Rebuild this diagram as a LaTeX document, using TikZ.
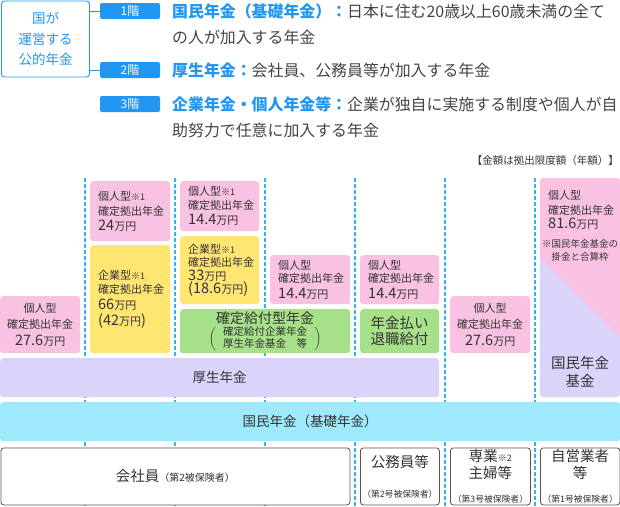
\documentclass[tikz,border=0pt]{standalone}
\usepackage{fontspec}
\newfontfamily\jp{Noto Sans CJK JP}
\usetikzlibrary{
    arrows.meta,
    positioning
}
\definecolor{kblue}{RGB}{33,150,243}
\definecolor{ink}{RGB}{51,51,51}
\definecolor{gry}{RGB}{68,68,68}
\definecolor{pk}{RGB}{249,194,226}
\definecolor{yel}{RGB}{255,230,115}
\definecolor{grn}{RGB}{166,224,137}
\definecolor{lav}{RGB}{219,212,250}
\definecolor{sky}{RGB}{158,233,252}
\definecolor{sepc}{RGB}{50,180,235}
\definecolor{edge}{RGB}{85,85,85}
\newcommand\fsz[2]{\fontsize{#1}{#2}\selectfont}
\newcommand\kome[1]{{\fsz{9}{9}※#1}}
\newcommand\num[1]{{\fsz{14.5}{14.5}#1}}
\newcommand\hi[1]{\textcolor{kblue}{\bfseries #1}}

\begin{document}
\begin{tikzpicture}[x=1pt, y=-1pt,
    blk/.style={rounded corners=3pt, inner sep=0pt, anchor=north west, text=ink, font=\jp\fsz{11}{14}},
    pbox/.style={blk, fill=pk},
    ybox/.style={blk, fill=yel},
    gbox/.style={blk, fill=grn},
    lbox/.style={align=left, inner xsep=8pt, text width=#1},
    wbox/.style={blk, fill=white, draw=edge, line width=0.8pt, minimum height=57pt, align=center, font=\jp\fsz{14.5}{17}},
    badge/.style={fill=kblue, text=white, rounded corners=2pt, minimum width=60pt, minimum height=16pt, inner sep=0pt, font=\jp\fsz{12}{12}},
    lead/.style={anchor=west, inner sep=0pt, align=left, text=gry, font=\jp\fsz{15.9}{26}},
    sep/.style={sepc, line width=1.6pt, dash pattern=on 4pt off 2pt}
]
    \useasboundingbox (0,0) rectangle (620,506);
    \node[draw=kblue, line width=0.9pt, rounded corners=3pt, minimum width=88pt, minimum height=76pt, text=kblue, align=center, font=\jp\fsz{13.5}{20.5}] (gov) at (45.5,39) {国が\\運営する\\公的年金};
    \node[badge] (f1) at (130,11) {1階};
    \node[badge] (f2) at (130,70) {2階};
    \node[badge] (f3) at (130,104) {3階};
    \draw[kblue, line width=0.9pt] (f1.west -| gov.east) -- (f1.west);
    \draw[kblue, line width=0.9pt] (f2.west -| gov.east) -- (f2.west);
    \node[lead] (t1) at (172,24) {\hi{国民年金（基礎年金）：}日本に住む20歳以上60歳未満の全て\\の人が加入する年金};
    \node[lead] (t2) at (172,70) {\hi{厚生年金：}会社員、公務員等が加入する年金};
    \node[lead] (t3) at (172,117) {\hi{企業年金・個人年金等：}企業が独自に実施する制度や個人が自\\助努力で任意に加入する年金};
    \node[anchor=east, inner sep=0pt, text=ink, font=\jp\fsz{10.5}{10.5}] (note) at (619,161) {【金額は拠出限度額（年額）】};

    \foreach \x in {85,175,265,355,445,535}
        \draw[sep] (\x,178) -- (\x,506);

    \node[pbox, minimum width=80pt, minimum height=57pt, align=center, font=\jp\fsz{11}{16.5}] (p1) at (0,296) {個人型\\確定拠出年金\\\num{27.6}万円};
    \node[pbox, lbox=64pt, minimum width=80pt, minimum height=60pt, font=\jp\fsz{11}{15}] (p2) at (90,181) {個人型\kome{1}\\確定拠出年金\\\num{24}万円};
    \node[ybox, lbox=64pt, minimum width=80pt, minimum height=108pt] (y2) at (90,245) {企業型\kome{1}\\確定拠出年金\\[2pt]\num{66}万円\\[2pt]\num{(42}万円\num{)}};
    \node[pbox, lbox=63pt, minimum width=79pt, minimum height=50pt] (p3) at (180,181) {個人型\kome{1}\\確定拠出年金\\[1pt]\num{14.4}万円};
    \node[ybox, lbox=63pt, minimum width=79pt, minimum height=68pt, font=\jp\fsz{11}{13}] (y3) at (180,236) {企業型\kome{1}\\確定拠出年金\\[0.5pt]\num{33}万円\\\num{(18.6}万円\num{)}};
    \node[gbox, minimum width=170pt, minimum height=44pt, align=center, font=\jp\fsz{14}{14}] (g34) at (180,309) {確定給付型年金\\[1pt]{\fsz{10.5}{11}$\left(\begin{tabular}{@{\hspace{7pt}}c@{\hspace{7pt}}}確定給付企業年金\\[-1pt]厚生年金基金　等\end{tabular}\right)$}};
    \node[pbox, lbox=64pt, minimum width=80pt, minimum height=49pt, font=\jp\fsz{11}{13}] (p4) at (270,255) {個人型\\確定拠出年金\\[3pt]\num{14.4}万円};
    \node[pbox, lbox=63pt, minimum width=79pt, minimum height=49pt, font=\jp\fsz{11}{13}] (p5) at (360,255) {個人型\\確定拠出年金\\[3pt]\num{14.4}万円};
    \node[gbox, minimum width=79pt, minimum height=44pt, align=center, font=\jp\fsz{14.5}{16.5}] (g5) at (360,309) {年金払い\\退職給付};
    \node[pbox, minimum width=80pt, minimum height=57pt, align=center, font=\jp\fsz{11}{16.5}] (p6) at (450,296) {個人型\\確定拠出年金\\\num{27.6}万円};

    \fill[pk, rounded corners=3pt] (540,178) rectangle (620,397);
    \begin{scope}
        \clip[rounded corners=3pt] (540,178) rectangle (620,397);
        \fill[lav] (540,258) -- (620,337) -- (620,397) -- (540,397) -- cycle;
    \end{scope}
    \node[anchor=west, inner sep=0pt, align=left, text=ink, font=\jp\fsz{11}{14.5}] (k7a) at (548,210) {個人型\\確定拠出年金\\\num{81.6}万円};
    \node[inner sep=0pt, align=center, text=ink, font=\jp\fsz{9.5}{13}] (k7b) at (580,250.5) {※国民年金基金の\\掛金と合算枠};
    \node[inner sep=0pt, align=center, text=ink, font=\jp\fsz{14.5}{18}] (k7c) at (580,372) {国民年金\\基金};

    \node[blk, fill=lav, minimum width=439pt, minimum height=39pt, font=\jp\fsz{13.5}{13.5}] (kosei) at (0,358) {厚生年金};
    \node[blk, fill=sky, minimum width=620pt, minimum height=39pt, font=\jp\fsz{13.5}{13.5}] (kokumin) at (0,402) {国民年金（基礎年金）};

    \node[wbox, minimum width=349pt] (kaisha) at (0.5,447.5) {会社員{\fsz{10}{10}（第2被保険者）}};
    \node[wbox, minimum width=79pt] (koumu) at (360,447.5) {公務員等\\[13pt]{\fsz{8.8}{9}（第2号被保険者）}};
    \node[wbox, minimum width=80pt] (sengyo) at (450,447.5) {専業\kome{2}\\主婦等\\[7pt]{\fsz{8.8}{9}（第3号被保険者）}};
    \node[wbox, minimum width=79.5pt] (jiei) at (540,447.5) {自営業者\\等\hspace{52pt}\\[7pt]{\fsz{8.8}{9}（第1号被保険者）}};
\end{tikzpicture}
\end{document}
